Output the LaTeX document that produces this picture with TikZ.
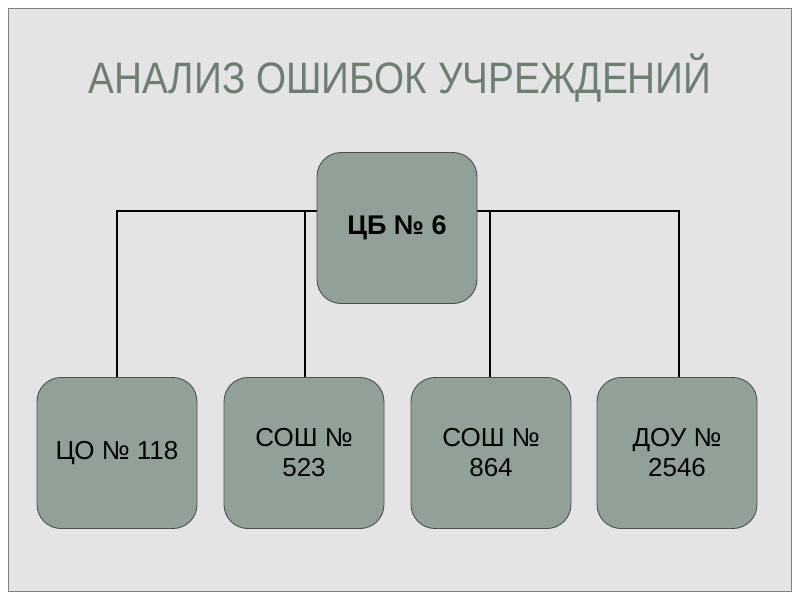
\documentclass[tikz,border=0pt]{standalone}
\usepackage{fontspec}
\setmainfont{Liberation Sans}
\usetikzlibrary{backgrounds}

\definecolor{slidefill}{RGB}{228,228,228}
\definecolor{slideedge}{RGB}{128,128,128}
\definecolor{titlegreen}{RGB}{108,127,112}
\definecolor{boxfill}{RGB}{145,161,151}
\definecolor{boxedge}{RGB}{75,80,77}

\tikzset{
  unit/.style={draw=boxedge, line width=0.9pt, fill=boxfill, rounded corners=24pt,
    minimum width=160pt, minimum height=151pt, inner sep=0pt, align=center,
    font=\fontsize{26}{30}\selectfont},
  link/.style={draw=black, line width=1.6pt}
}

\begin{document}
\begin{tikzpicture}[x=1pt,y=-1pt]
  \useasboundingbox (0,0) rectangle (800,600);

  \node[titlegreen, anchor=base, font=\fontsize{44}{50}\selectfont] (title) at (400,93)
    {\scalebox{0.88}[1]{АНАЛИЗ ОШИБОК УЧРЕЖДЕНИЙ}};

  \node[unit, font=\fontsize{27}{30}\selectfont\bfseries] (cb) at (397,228) {ЦБ № 6};
  \node[unit] (co) at (117,453) {ЦО № 118};
  \node[unit] (sosh523) at (304,453) {СОШ №\\523};
  \node[unit] (sosh864) at (491,453) {СОШ №\\864};
  \node[unit] (dou) at (677,453) {ДОУ №\\2546};

  \coordinate (bus) at (397,211);

  \begin{scope}[on background layer]
    \draw[slideedge, fill=slidefill, line width=1pt] (8,8) rectangle (791,591);
    \draw[link] (co.north) |- (bus);
    \draw[link] ([xshift=1pt]sosh523.north) |- (bus);
    \draw[link] ([xshift=-1pt]sosh864.north) |- (bus);
    \draw[link] ([xshift=2pt]dou.north) |- (bus);
  \end{scope}
\end{tikzpicture}
\end{document}
